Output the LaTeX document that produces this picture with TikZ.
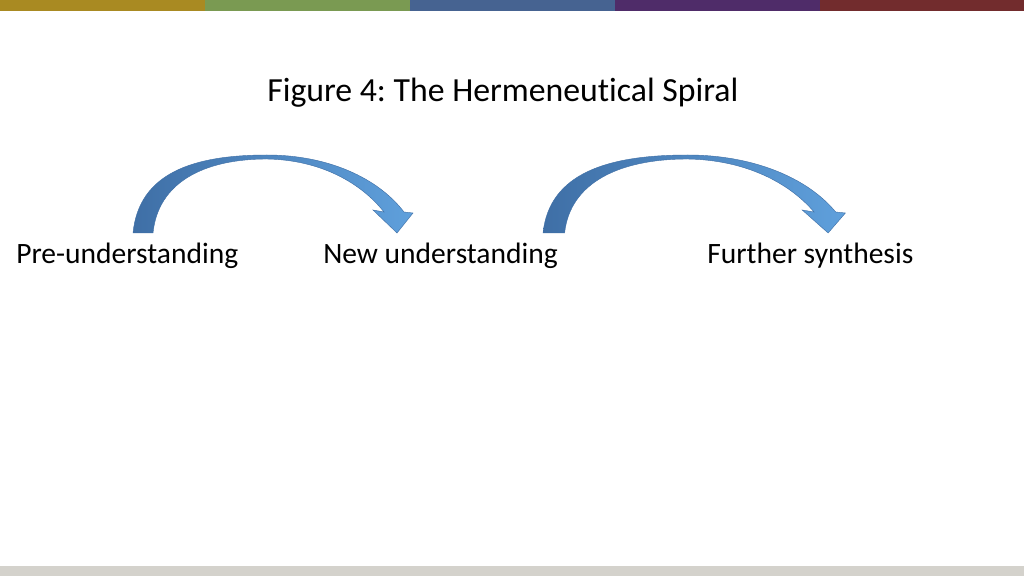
\documentclass[tikz,border=0pt]{standalone}
\usepackage{fontspec}
\setmainfont{Carlito}[Ligatures=NoCommon]
\usepackage{tikz}
\usetikzlibrary{calc}
\frenchspacing
\definecolor{barGold}{HTML}{A98A22}
\definecolor{barGreen}{HTML}{7A9A52}
\definecolor{barBlue}{HTML}{466391}
\definecolor{barPurple}{HTML}{4F2C69}
\definecolor{barRed}{HTML}{722C2D}
\definecolor{barGrey}{HTML}{D4D2CC}
\definecolor{arrowDark}{HTML}{3F6FA6}
\definecolor{arrowLight}{HTML}{5FA0DC}
\newcommand{\tikzBendArrow}[3]{
  \begin{scope}[shift={(#2)},xscale=#3]
  \path[bendarrow] (0,0) .. controls (6,-60) and (60,-78) .. (134,-78)
    .. controls (195,-78) and (245,-55) .. (271,-21) -- (280,-20) -- (264,0)
    -- (240,-23) -- (251,-21) .. controls (228,-50) and (188,-73) .. (134,-74)
    .. controls (70,-74) and (25,-50) .. (20,0) -- cycle;
  \coordinate (#1) at (134,-78);
  \end{scope}
}
\begin{document}
\begin{tikzpicture}[x=0.025cm,y=-0.025cm]
  \tikzset{
    label/.style={anchor=base west,inner sep=0pt,font=\fontsize{21}{25}\selectfont},
    bendarrow/.style={draw=arrowDark,line width=0.3pt,left color=arrowDark,right color=arrowLight}
  }
  \useasboundingbox (0,0) rectangle (1024,576);
  \fill[white] (0,0) rectangle (1024,576);

  % colour bars
  \fill[barGold]   (0,0) rectangle (205,11);
  \fill[barGreen]  (205,0) rectangle (410,11);
  \fill[barBlue]   (410,0) rectangle (615,11);
  \fill[barPurple] (615,0) rectangle (820,11);
  \fill[barRed]    (820,0) rectangle (1024,11);
  \fill[barGrey]   (0,566) rectangle (1024,576);

  \node[label,font=\fontsize{24}{29}\selectfont] (title) at (267,102) {Figure 4: The Hermeneutical Spiral};

  \node[label] (pre) at (16,264) {Pre-understanding};
  \node[label] (new) at (323,264) {New understanding};
  \node[label] (further) at (707,264) {Further synthesis};

  \tikzBendArrow{arcA}{133,233}{1}
  \tikzBendArrow{arcB}{543,233}{1.08}
\end{tikzpicture}
\end{document}
